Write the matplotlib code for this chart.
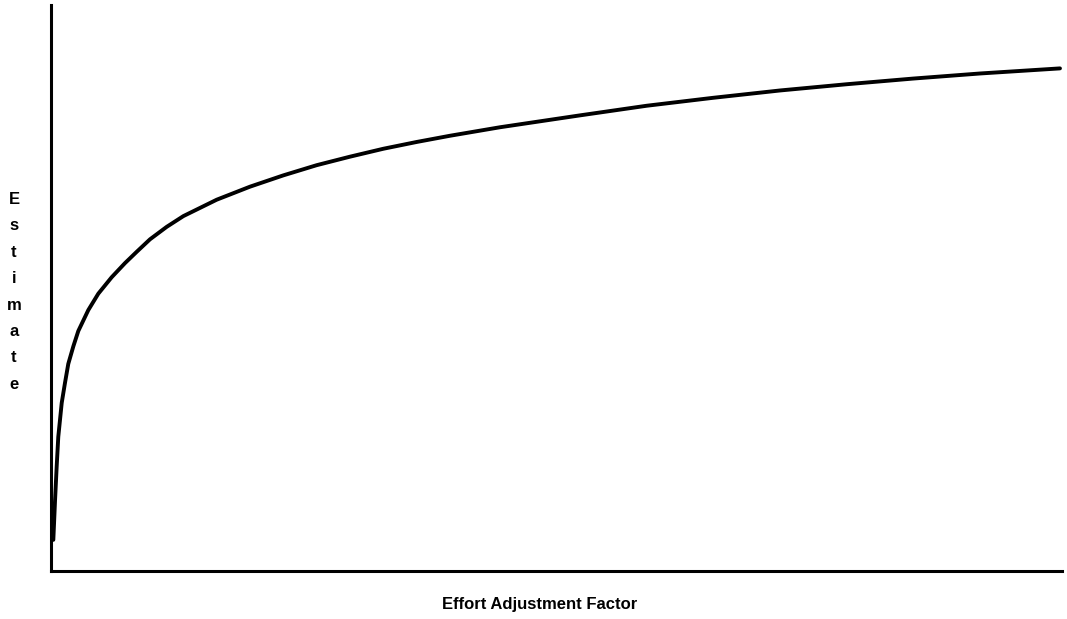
import matplotlib
matplotlib.use("Agg")
import matplotlib.pyplot as plt

# Curve (arbitrary units, axes 0..100)
effort_factor = [0.23, 0.40, 0.56, 0.72, 1.06, 1.38, 1.71, 2.21, 2.70, 3.69, 4.68,
                 6.00, 7.32, 8.48, 9.79, 11.44, 13.09, 16.39, 19.68, 22.98, 26.28,
                 29.57, 32.87, 36.17, 39.47, 44.41, 52.32, 58.92, 65.48, 72.11,
                 78.70, 85.26, 91.89, 99.80]
estimate = [5.5, 12.5, 18.4, 23.7, 29.7, 33.2, 36.6, 39.7, 42.4, 46.1, 49.0,
            51.9, 54.4, 56.4, 58.6, 60.8, 62.7, 65.6, 67.9, 69.9, 71.7,
            73.2, 74.6, 75.8, 76.9, 78.4, 80.5, 82.2, 83.6, 84.9,
            86.0, 87.0, 87.9, 88.8]

xlabel = "Effort Adjustment Factor"
ylabel = "Estimate"

plt.rcParams['font.family'] = ['Liberation Sans', 'DejaVu Sans']

fig = plt.figure(figsize=(10.67, 6.19), dpi=100)
ax = fig.add_axes([51/1067, 48/619, 1011/1067, 566/619])
ax.plot(effort_factor, estimate, color='black', lw=2.8, solid_capstyle='round',
        solid_joinstyle='round')
ax.set_xlim(0, 100)
ax.set_ylim(0, 100)
for s in ['top', 'right']:
    ax.spines[s].set_visible(False)
for s in ['left', 'bottom']:
    ax.spines[s].set_linewidth(2.2)
    ax.spines[s].set_color('black')
ax.set_xticks([])
ax.set_yticks([])

fig.text(540/1067, 1 - 605/619, xlabel, ha='center', va='center',
         fontsize=12, fontweight='bold')
fig.text(14/1067, 1 - 292/619, "\n".join(ylabel), ha='center', va='center',
         fontsize=12, fontweight='bold', linespacing=1.95)

fig.savefig("out.png", dpi=100)
